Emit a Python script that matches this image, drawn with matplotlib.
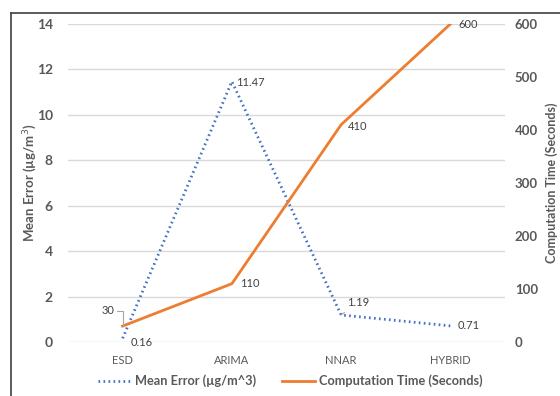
import matplotlib.pyplot as plt
from matplotlib.lines import Line2D

models = ["ESD", "ARIMA", "NNAR", "HYBRID"]
mean_error = [0.16, 11.47, 1.19, 0.71]
comp_time = [30, 110, 410, 600]
left_ticks = [0, 2, 4, 6, 8, 10, 12, 14]
right_ticks = [0, 100, 200, 300, 400, 500, 600]

plt.rcParams['font.family'] = ['Lato', 'DejaVu Sans']
blue = '#4472C4'
orange = '#ED7D31'
txt = '#595959'

fig = plt.figure(figsize=(5.6, 3.96), dpi=100)
ax = fig.add_axes([68/560, 1-342/396, (505-68)/560, (342-24)/396])
ax2 = ax.twinx()

x = list(range(len(models)))
ax.plot(x, mean_error, color=blue, lw=2, ls=(0, (0.6, 1.2)), zorder=3)
ax2.plot(x, comp_time, color=orange, lw=2, zorder=3)

ax.set_xlim(-0.5, 3.5)
ax.set_ylim(0, 14)
ax2.set_ylim(0, 600)
ax.set_yticks(left_ticks)
ax2.set_yticks(right_ticks)
ax.set_xticks(x)
ax.set_xticklabels(models, fontsize=8, color=txt)
ax.grid(axis='y', color='#d9d9d9', lw=1)
ax.set_axisbelow(True)
for a in (ax, ax2):
    for s in a.spines.values():
        s.set_visible(False)
    a.tick_params(length=0)
ax.tick_params(axis='y', labelsize=10, labelcolor=txt, pad=11)
ax.tick_params(axis='x', pad=9)
ax2.tick_params(axis='y', labelsize=9.5, labelcolor=txt, pad=7)
for lab in ax.get_yticklabels() + ax2.get_yticklabels():
    lab.set_fontweight('bold')

ax.set_ylabel('Mean Error (µg/m$^3$)', fontsize=9.5, color=txt, fontweight='bold', va='center')
ax2.set_ylabel('Computation Time (Seconds)', fontsize=9, color=txt, fontweight='bold', va='center')
ax.yaxis.set_label_coords((30-68)/437, 0.5)
ax2.yaxis.set_label_coords((552-68)/437, 0.5)

# data labels
lab_kw = dict(fontsize=8, color='#404040')
ax.annotate('0.16', (0, mean_error[0]), xytext=(6, -3), textcoords='offset points', va='center', **lab_kw)
ax.annotate('11.47', (1, mean_error[1]), xytext=(3, -1), textcoords='offset points', va='center', **lab_kw)
ax.annotate('1.19', (2, mean_error[2]), xytext=(4, 9), textcoords='offset points', va='center',
            arrowprops=dict(arrowstyle='-', color='#a6a6a6', lw=0.8, shrinkA=2, shrinkB=0), **lab_kw)
ax.annotate('0.71', (3, mean_error[3]), xytext=(5, 0), textcoords='offset points', va='center', **lab_kw)
ax2.annotate('30', (0, comp_time[0]), xytext=(-15, 11), textcoords='offset points', va='center', ha='left',
             arrowprops=dict(arrowstyle='-', color='#a6a6a6', lw=0.8, shrinkA=0, shrinkB=0,
                             connectionstyle='angle,angleA=0,angleB=90,rad=0'), **lab_kw)
ax2.annotate('110', (1, comp_time[1]), xytext=(6, 0), textcoords='offset points', va='center', **lab_kw)
ax2.annotate('410', (2, comp_time[2]), xytext=(5, -1), textcoords='offset points', va='center', **lab_kw)
ax2.annotate('600', (3, comp_time[3]), xytext=(6, 0), textcoords='offset points', va='center', **lab_kw)

handles = [Line2D([], [], color=blue, lw=2, ls=(0, (0.6, 1.2))),
           Line2D([], [], color=orange, lw=2)]
fig.legend(handles, ['Mean Error (µg/m^3)', 'Computation Time (Seconds)'],
           loc='center', bbox_to_anchor=(290/560, 1-381/396), ncol=2, frameon=False,
           prop={'size': 9.2, 'weight': 'bold'}, labelcolor=txt, handlelength=2.6,
           columnspacing=2.0, handletextpad=0.3)

# outer chart frame
fig.add_artist(Line2D([11/560, 11/560], [0, 1-13/396], color='#404040', lw=1.2, transform=fig.transFigure))
fig.add_artist(Line2D([11/560, 1], [1-13/396, 1-13/396], color='#404040', lw=1.2, transform=fig.transFigure))

fig.savefig('out.png', dpi=100)
